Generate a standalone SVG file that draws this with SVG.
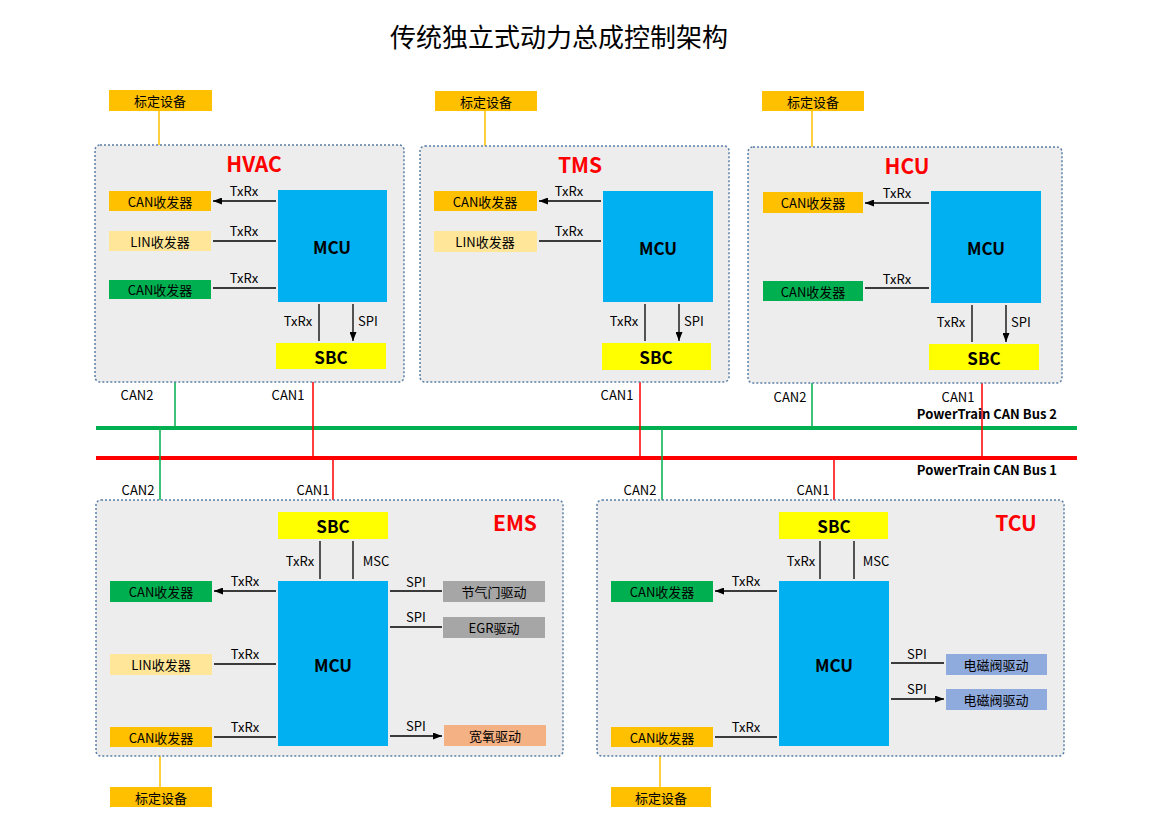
<svg xmlns="http://www.w3.org/2000/svg" width="1158" height="840" viewBox="0 0 1158 840">
<defs>
<marker id="ah" viewBox="0 0 10 10" refX="10" refY="5" markerWidth="9" markerHeight="7" markerUnits="userSpaceOnUse" orient="auto-start-reverse" preserveAspectRatio="none"><path d="M0,0L10,5L0,10z" fill="#000"/></marker>
</defs>
<style>
text{font-family:"Noto Sans CJK SC","Noto Sans",sans-serif;fill:#000;text-anchor:middle}
.ecu{fill:#ededed;stroke:#5b7fa6;stroke-width:1.5;stroke-dasharray:2 2}
.t{font-size:13px}
.s{font-size:13px;dominant-baseline:central}
.h{font-size:21px;font-weight:bold;fill:#ff0000}
.b{font-size:17px;font-weight:bold;dominant-baseline:central}
.mcu{fill:#00b0f0}.sbc{fill:#ffff00}.cal{fill:#ffc000}.lin{fill:#ffe699}.grn{fill:#00b050}.gry{fill:#a6a6a6}.sal{fill:#f4b183}.blu{fill:#8faadc}
.ar{stroke:#000;stroke-width:1.3;marker-start:url(#ah);marker-end:url(#ah);fill:none}
.r{stroke:#ff0000;stroke-width:1.5;fill:none}.g{stroke:#00b050;stroke-width:1.5;fill:none}.o{stroke:#ffc000;stroke-width:1.5;fill:none}
.bus{font-size:13px;font-weight:bold;text-anchor:end}
</style>
<text x="559" y="47" style="font-size:26px">传统独立式动力总成控制架构</text>

<g id="connectors">
<line x1="96" y1="428" x2="1077" y2="428" stroke="#00b050" stroke-width="4"/>
<line x1="96" y1="458" x2="1077" y2="458" stroke="#ff0000" stroke-width="4"/>
<path class="o" d="M159 111V191M485 111V191M812 111V192M160 747V787M660 747V787"/>
<path class="g" d="M175 299V428M812 301V428M160 428V581M662 428V581"/>
<path class="r" d="M313 369V458M640 370V458M982 370V458M333 458V512M834 458V512"/>
</g>

<g id="HVAC">
<rect class="ecu" x="95" y="145" width="309" height="237" rx="5"/>
<text class="h" x="254" y="172">HVAC</text>
<rect class="cal" x="109" y="90" width="103" height="21"/><text class="s" x="160" y="100.5">标定设备</text>
<rect class="cal" x="109" y="191" width="102" height="20"/><text class="s" x="160" y="201">CAN收发器</text>
<rect class="lin" x="109" y="231" width="102" height="20"/><text class="s" x="160" y="241">LIN收发器</text>
<rect class="grn" x="109" y="280" width="102" height="19"/><text class="s" x="160" y="289.5">CAN收发器</text>
<rect class="mcu" x="278" y="190" width="109" height="112"/><text class="b" x="332" y="246">MCU</text>
<rect class="sbc" x="276" y="343" width="110" height="26"/><text class="b" x="331" y="356">SBC</text>
<path class="ar" d="M213 201H276M213 241H276M213 288H276M319 304V341M353 304V341"/>
<text class="t" x="244" y="196">TxRx</text><text class="t" x="244" y="236">TxRx</text><text class="t" x="244" y="283">TxRx</text>
<text class="t" x="298" y="326">TxRx</text><text class="t" x="368" y="326">SPI</text>
<text class="t" x="137" y="400">CAN2</text><text class="t" x="288" y="400">CAN1</text>
</g>

<g id="TMS">
<rect class="ecu" x="420" y="146" width="309" height="236" rx="5"/>
<text class="h" x="580" y="173">TMS</text>
<rect class="cal" x="435" y="91" width="102" height="20"/><text class="s" x="486" y="101">标定设备</text>
<rect class="cal" x="434" y="191" width="103" height="20"/><text class="s" x="485" y="201">CAN收发器</text>
<rect class="lin" x="434" y="231" width="103" height="21"/><text class="s" x="485" y="241.5">LIN收发器</text>
<rect class="mcu" x="603" y="191" width="110" height="111"/><text class="b" x="658" y="247">MCU</text>
<rect class="sbc" x="602" y="343" width="109" height="27"/><text class="b" x="656" y="356.5">SBC</text>
<path class="ar" d="M539 201H601M539 241H601M645 304V341M679 304V341"/>
<text class="t" x="569" y="196">TxRx</text><text class="t" x="569" y="236">TxRx</text>
<text class="t" x="624" y="326">TxRx</text><text class="t" x="694" y="326">SPI</text>
<text class="t" x="617" y="400">CAN1</text>
</g>

<g id="HCU">
<rect class="ecu" x="748" y="147" width="314" height="236" rx="5"/>
<text class="h" x="907" y="174">HCU</text>
<rect class="cal" x="762" y="91" width="102" height="20"/><text class="s" x="813" y="101">标定设备</text>
<rect class="cal" x="763" y="192" width="100" height="21"/><text class="s" x="813" y="202.5">CAN收发器</text>
<rect class="grn" x="763" y="281" width="100" height="20"/><text class="s" x="813" y="291">CAN收发器</text>
<rect class="mcu" x="931" y="191" width="110" height="112"/><text class="b" x="986" y="247">MCU</text>
<rect class="sbc" x="929" y="344" width="110" height="26"/><text class="b" x="984" y="357">SBC</text>
<path class="ar" d="M865 203H929M865 288H929M972 305V342M1006 305V342"/>
<text class="t" x="897" y="198">TxRx</text><text class="t" x="897" y="284">TxRx</text>
<text class="t" x="951" y="327">TxRx</text><text class="t" x="1021" y="327">SPI</text>
<text class="t" x="958" y="402">CAN1</text><text class="t" x="790" y="402">CAN2</text>
</g>

<text class="bus" x="1057" y="419">PowerTrain CAN Bus 2</text>
<text class="bus" x="1057" y="475">PowerTrain CAN Bus 1</text>

<g id="EMS">
<rect class="ecu" x="96" y="500" width="467" height="256" rx="5"/>
<text class="h" x="515" y="531">EMS</text>
<rect class="sbc" x="278" y="512" width="110" height="27"/><text class="b" x="333" y="525.5">SBC</text>
<rect class="grn" x="110" y="581" width="102" height="21"/><text class="s" x="161" y="591.5">CAN收发器</text>
<rect class="lin" x="110" y="654" width="102" height="21"/><text class="s" x="161" y="664.5">LIN收发器</text>
<rect class="cal" x="110" y="727" width="102" height="20"/><text class="s" x="161" y="737">CAN收发器</text>
<rect class="cal" x="110" y="787" width="102" height="20"/><text class="s" x="161" y="797">标定设备</text>
<rect class="mcu" x="278" y="581" width="110" height="165"/><text class="b" x="333" y="664">MCU</text>
<rect class="gry" x="443" y="581" width="102" height="21"/><text class="s" x="494" y="591.5">节气门驱动</text>
<rect class="gry" x="443" y="617" width="102" height="21"/><text class="s" x="494" y="627.5">EGR驱动</text>
<rect class="sal" x="444" y="725" width="102" height="21"/><text class="s" x="495" y="735.5">宽氧驱动</text>
<path class="ar" d="M214 591H276M214 664H276M214 737H276M320 541V579M353 541V579M390 591H442M390 627H442M390 736H442"/>
<text class="t" x="245" y="586">TxRx</text><text class="t" x="245" y="659">TxRx</text><text class="t" x="245" y="732">TxRx</text>
<text class="t" x="300" y="566">TxRx</text><text class="t" x="376" y="566">MSC</text>
<text class="t" x="416" y="587">SPI</text><text class="t" x="416" y="622">SPI</text><text class="t" x="416" y="731">SPI</text>
<text class="t" x="138" y="495">CAN2</text><text class="t" x="313" y="495">CAN1</text>
</g>

<g id="TCU">
<rect class="ecu" x="597" y="500" width="467" height="256" rx="5"/>
<text class="h" x="1016" y="531">TCU</text>
<rect class="sbc" x="779" y="512" width="109" height="27"/><text class="b" x="834" y="525.5">SBC</text>
<rect class="grn" x="611" y="581" width="102" height="21"/><text class="s" x="662" y="591.5">CAN收发器</text>
<rect class="cal" x="611" y="727" width="102" height="20"/><text class="s" x="662" y="737">CAN收发器</text>
<rect class="cal" x="611" y="787" width="100" height="20"/><text class="s" x="661" y="797">标定设备</text>
<rect class="mcu" x="779" y="581" width="110" height="165"/><text class="b" x="834" y="664">MCU</text>
<rect class="blu" x="946" y="654" width="101" height="21"/><text class="s" x="996" y="664.5">电磁阀驱动</text>
<rect class="blu" x="946" y="689" width="101" height="21"/><text class="s" x="996" y="699.5">电磁阀驱动</text>
<path class="ar" d="M715 591H777M715 737H777M820 541V579M854 541V579M891 663H944M891 699H944"/>
<text class="t" x="746" y="586">TxRx</text><text class="t" x="746" y="732">TxRx</text>
<text class="t" x="801" y="566">TxRx</text><text class="t" x="876" y="566">MSC</text>
<text class="t" x="917" y="659">SPI</text><text class="t" x="917" y="694">SPI</text>
<text class="t" x="640" y="495">CAN2</text><text class="t" x="813" y="495">CAN1</text>
</g>
</svg>
